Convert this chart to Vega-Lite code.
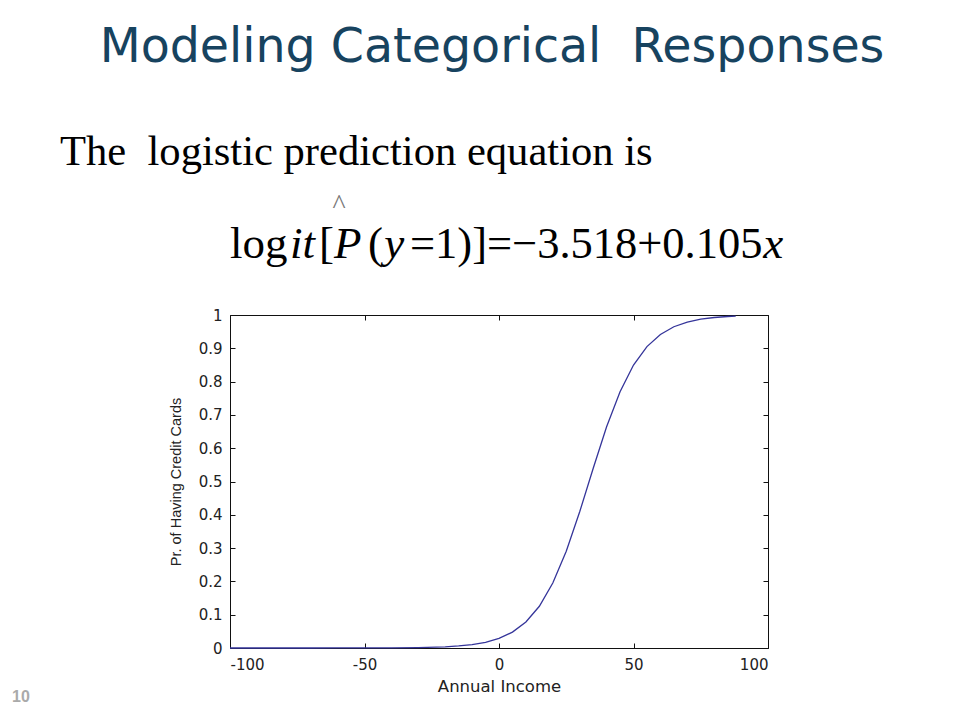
{
  "$schema": "https://vega.github.io/schema/vega-lite/v6.json",
  "width": 538,
  "height": 333,
  "autosize": "none",
  "padding": {"left": 230, "top": 315, "right": 192, "bottom": 72},
  "background": "white",
  "config": {
    "view": {"stroke": null},
    "axis": {
      "grid": false,
      "domainColor": "#111",
      "domainWidth": 1,
      "tickColor": "#111",
      "tickWidth": 1,
      "labelFont": "DejaVu Sans",
      "labelFontSize": 15,
      "labelColor": "#222",
      "titleFont": "DejaVu Sans",
      "titleFontSize": 16,
      "titleFontWeight": "normal",
      "titleColor": "#222"
    }
  },
  "datasets": {
    "curve": [
      {"income": -100, "p": 0.0},
      {"income": -90, "p": 0.0},
      {"income": -80, "p": 0.0},
      {"income": -70, "p": 0.0},
      {"income": -60, "p": 0.0001},
      {"income": -50, "p": 0.0002},
      {"income": -40, "p": 0.0004},
      {"income": -30, "p": 0.0013},
      {"income": -20, "p": 0.0036},
      {"income": -15, "p": 0.0061},
      {"income": -10, "p": 0.0103},
      {"income": -5, "p": 0.0172},
      {"income": 0, "p": 0.0288},
      {"income": 5, "p": 0.0477},
      {"income": 10, "p": 0.0781},
      {"income": 15, "p": 0.1253},
      {"income": 20, "p": 0.195},
      {"income": 25, "p": 0.2905},
      {"income": 30, "p": 0.409},
      {"income": 35, "p": 0.5392},
      {"income": 40, "p": 0.6642},
      {"income": 45, "p": 0.7698},
      {"income": 50, "p": 0.8497},
      {"income": 55, "p": 0.9052},
      {"income": 60, "p": 0.9417},
      {"income": 65, "p": 0.9647},
      {"income": 70, "p": 0.9788},
      {"income": 75, "p": 0.9873},
      {"income": 80, "p": 0.9925},
      {"income": 85, "p": 0.9955},
      {"income": 88, "p": 0.9967}
    ],
    "one": [{"k": 1}]
  },
  "layer": [
    {
      "data": {"name": "curve"},
      "mark": {"type": "line", "color": "#35359a", "strokeWidth": 1.3},
      "encoding": {
        "x": {
          "field": "income", "type": "quantitative",
          "scale": {"domain": [-100, 100], "nice": false, "zero": false},
          "axis": {"orient": "bottom", "values": [-100, -50, 0, 50, 100], "labelExpr": "toString(datum.value)", "tickSize": -5, "labelPadding": 14, "title": "Annual Income", "titleFontSize": 16.5, "titlePadding": 6}
        },
        "y": {
          "field": "p", "type": "quantitative",
          "scale": {"domain": [0, 1], "nice": false, "zero": false},
          "axis": {"orient": "left", "values": [0, 0.1, 0.2, 0.3, 0.4, 0.5, 0.6, 0.7, 0.8, 0.9, 1], "labelExpr": "toString(datum.value)", "tickSize": -5, "labelPadding": 13, "title": "Pr. of Having Credit Cards", "titleFont": "Liberation Sans", "titleFontSize": 14.5, "titlePadding": 15}
        }
      }
    },
    {
      "data": {"name": "curve"},
      "mark": {"type": "line", "strokeOpacity": 0},
      "encoding": {
        "x": {
          "field": "income", "type": "quantitative",
          "scale": {"domain": [-100, 100], "nice": false, "zero": false},
          "axis": {"orient": "top", "values": [-100, -50, 0, 50, 100], "tickSize": -5, "labels": false, "title": null}
        },
        "y": {
          "field": "p", "type": "quantitative",
          "scale": {"domain": [0, 1], "nice": false, "zero": false},
          "axis": {"orient": "right", "values": [0, 0.1, 0.2, 0.3, 0.4, 0.5, 0.6, 0.7, 0.8, 0.9, 1], "tickSize": -5, "labels": false, "title": null}
        }
      }
    },
    {
      "data": {"name": "one"},
      "mark": {"type": "text", "text": "Modeling Categorical\u00a0 Responses", "font": "DejaVu Sans", "fontSize": 47.5, "align": "center", "baseline": "alphabetic", "color": "#17435f"},
      "encoding": {
        "x": {"datum": -2.6, "type": "quantitative", "scale": {"domain": [-100, 100], "nice": false, "zero": false}, "axis": null},
        "y": {"datum": 1.7598, "type": "quantitative", "scale": {"domain": [0, 1], "nice": false, "zero": false}, "axis": null}
      }
    },
    {
      "data": {"name": "one"},
      "mark": {"type": "text", "text": "The\u00a0 logistic prediction equation is", "font": "Liberation Serif", "fontSize": 42.6, "align": "left", "baseline": "alphabetic", "color": "#000"},
      "encoding": {
        "x": {"datum": -163.2, "type": "quantitative", "scale": {"domain": [-100, 100], "nice": false, "zero": false}, "axis": null},
        "y": {"datum": 1.4505, "type": "quantitative", "scale": {"domain": [0, 1], "nice": false, "zero": false}, "axis": null}
      }
    },
    {
      "data": {"name": "one"},
      "mark": {"type": "text", "text": "log", "font": "Liberation Serif", "fontSize": 45, "align": "left", "baseline": "alphabetic", "color": "#000"},
      "encoding": {
        "x": {"datum": -100, "type": "quantitative", "scale": {"domain": [-100, 100], "nice": false, "zero": false}, "axis": null},
        "y": {"datum": 1.1712, "type": "quantitative", "scale": {"domain": [0, 1], "nice": false, "zero": false}, "axis": null}
      }
    },
    {
      "data": {"name": "one"},
      "mark": {"type": "text", "text": "it", "font": "Liberation Serif", "fontStyle": "italic", "fontSize": 45, "align": "left", "baseline": "alphabetic", "color": "#000"},
      "encoding": {
        "x": {"datum": -77.7, "type": "quantitative", "scale": {"domain": [-100, 100], "nice": false, "zero": false}, "axis": null},
        "y": {"datum": 1.1712, "type": "quantitative", "scale": {"domain": [0, 1], "nice": false, "zero": false}, "axis": null}
      }
    },
    {
      "data": {"name": "one"},
      "mark": {"type": "text", "text": "[", "font": "Liberation Serif", "fontSize": 45, "align": "left", "baseline": "alphabetic", "color": "#000"},
      "encoding": {
        "x": {"datum": -66.9, "type": "quantitative", "scale": {"domain": [-100, 100], "nice": false, "zero": false}, "axis": null},
        "y": {"datum": 1.1712, "type": "quantitative", "scale": {"domain": [0, 1], "nice": false, "zero": false}, "axis": null}
      }
    },
    {
      "data": {"name": "one"},
      "mark": {"type": "text", "text": "P", "font": "Liberation Serif", "fontStyle": "italic", "fontSize": 45, "align": "left", "baseline": "alphabetic", "color": "#000"},
      "encoding": {
        "x": {"datum": -61.3, "type": "quantitative", "scale": {"domain": [-100, 100], "nice": false, "zero": false}, "axis": null},
        "y": {"datum": 1.1712, "type": "quantitative", "scale": {"domain": [0, 1], "nice": false, "zero": false}, "axis": null}
      }
    },
    {
      "data": {"name": "one"},
      "mark": {"type": "text", "text": "^", "font": "Liberation Serif", "fontSize": 28, "align": "center", "baseline": "alphabetic", "color": "#777"},
      "encoding": {
        "x": {"datum": -59.5, "type": "quantitative", "scale": {"domain": [-100, 100], "nice": false, "zero": false}, "axis": null},
        "y": {"datum": 1.3063, "type": "quantitative", "scale": {"domain": [0, 1], "nice": false, "zero": false}, "axis": null}
      }
    },
    {
      "data": {"name": "one"},
      "mark": {"type": "text", "text": "(", "font": "Liberation Serif", "fontSize": 45, "align": "left", "baseline": "alphabetic", "color": "#000"},
      "encoding": {
        "x": {"datum": -48.7, "type": "quantitative", "scale": {"domain": [-100, 100], "nice": false, "zero": false}, "axis": null},
        "y": {"datum": 1.1712, "type": "quantitative", "scale": {"domain": [0, 1], "nice": false, "zero": false}, "axis": null}
      }
    },
    {
      "data": {"name": "one"},
      "mark": {"type": "text", "text": "y", "font": "Liberation Serif", "fontStyle": "italic", "fontSize": 45, "align": "left", "baseline": "alphabetic", "color": "#000"},
      "encoding": {
        "x": {"datum": -42.7, "type": "quantitative", "scale": {"domain": [-100, 100], "nice": false, "zero": false}, "axis": null},
        "y": {"datum": 1.1712, "type": "quantitative", "scale": {"domain": [0, 1], "nice": false, "zero": false}, "axis": null}
      }
    },
    {
      "data": {"name": "one"},
      "mark": {"type": "text", "text": "=1)]=−3.518+0.105", "font": "Liberation Serif", "fontSize": 44.5, "align": "left", "baseline": "alphabetic", "color": "#000"},
      "encoding": {
        "x": {"datum": -33.1, "type": "quantitative", "scale": {"domain": [-100, 100], "nice": false, "zero": false}, "axis": null},
        "y": {"datum": 1.1712, "type": "quantitative", "scale": {"domain": [0, 1], "nice": false, "zero": false}, "axis": null}
      }
    },
    {
      "data": {"name": "one"},
      "mark": {"type": "text", "text": "x", "font": "Liberation Serif", "fontStyle": "italic", "fontSize": 45, "align": "left", "baseline": "alphabetic", "color": "#000"},
      "encoding": {
        "x": {"datum": 98.2, "type": "quantitative", "scale": {"domain": [-100, 100], "nice": false, "zero": false}, "axis": null},
        "y": {"datum": 1.1712, "type": "quantitative", "scale": {"domain": [0, 1], "nice": false, "zero": false}, "axis": null}
      }
    },
    {
      "data": {"name": "one"},
      "mark": {"type": "text", "text": "10", "font": "Liberation Sans", "fontWeight": "bold", "fontSize": 16, "align": "left", "baseline": "alphabetic", "color": "#aaa"},
      "encoding": {
        "x": {"datum": -181.0, "type": "quantitative", "scale": {"domain": [-100, 100], "nice": false, "zero": false}, "axis": null},
        "y": {"datum": -0.162, "type": "quantitative", "scale": {"domain": [0, 1], "nice": false, "zero": false}, "axis": null}
      }
    }
  ],
  "resolve": {"axis": {"x": "independent", "y": "independent"}}
}
